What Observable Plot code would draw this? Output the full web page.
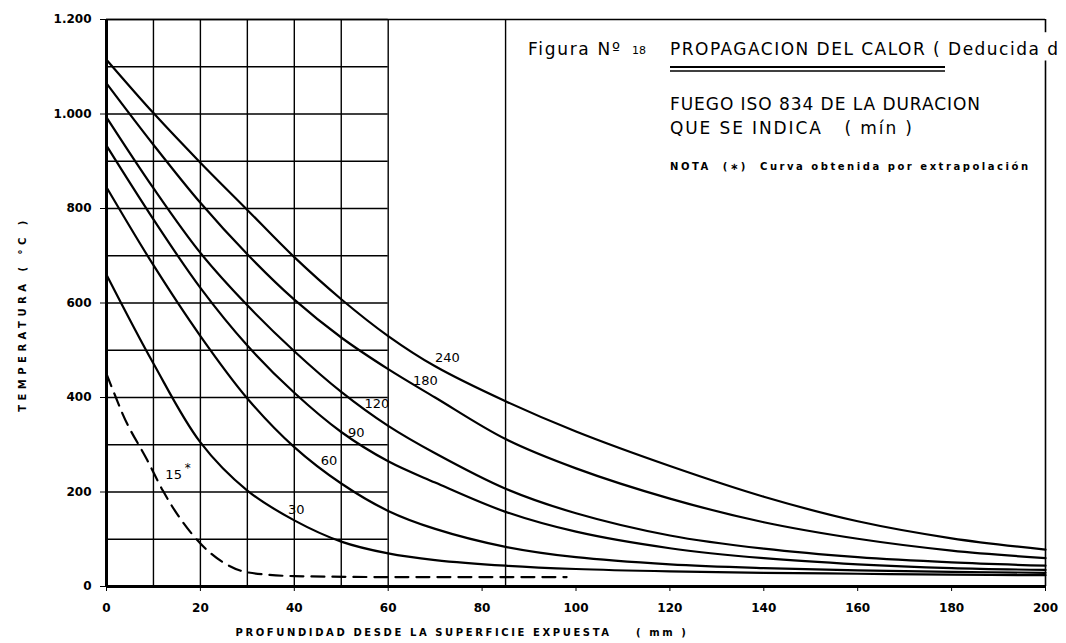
<!DOCTYPE html>
<html><head><meta charset="utf-8">
<script src="https://cdn.jsdelivr.net/npm/d3@7"></script>
<script src="https://cdn.jsdelivr.net/npm/@observablehq/plot@0.6"></script>
<style>
html,body{margin:0;padding:0;background:#fff;overflow:hidden;}
#chart{width:1066px;height:643px;}
</style></head><body><div id="chart"></div>
<script>
// Depth (mm) sample points
const depth = [0, 10, 20, 30, 40, 50, 60, 70, 85, 100, 120, 140, 160, 180, 200];
// Temperatures (°C) for each fire duration (min)
const t240 = [1115, 1002, 897, 797, 697, 608, 530, 466, 392, 328, 255, 190, 138, 102, 78];
const t180 = [1065, 935, 812, 703, 607, 527, 460, 400, 312, 250, 186, 136, 101, 76, 60];
const t120 = [993, 843, 706, 595, 498, 412, 340, 282, 207, 155, 108, 80, 62, 51, 44];
const t90  = [933, 777, 632, 510, 410, 327, 265, 220, 158, 116, 81, 60, 47, 39, 35];
const t60  = [845, 680, 530, 398, 295, 218, 160, 122, 84, 62, 47, 39, 34, 31, 29];
const t30  = [660, 472, 305, 203, 140, 95, 70, 56, 44, 37, 32, 29, 27, 25, 24];
// 15 min curve (extrapolated, dashed)
const depth15 = [0, 2, 3.4, 8.7, 12, 20, 25, 30, 40, 60, 80, 98];
const t15     = [450, 400, 366, 267, 203, 91, 50, 30, 22, 20, 20, 20];

const seriesNames = ["240", "180", "120", "90", "60", "30"];
const seriesTemps = [t240, t180, t120, t90, t60, t30];

// Curve labels (text, depth, temperature)
const labelText = ["240", "180", "120", "90", "60", "30", "15"];
const labelX = [72.6, 67.9, 57.6, 53.2, 47.4, 40.4, 14.3];
const labelY = [484, 436, 386, 326, 267, 162, 237];

// Axis ticks
const xTicks = [0, 20, 40, 60, 80, 100, 120, 140, 160, 180, 200];
const yTicks = [0, 200, 400, 600, 800, 1000, 1200];
const gridX = [0, 10, 20, 30, 40, 50, 60];
const gridY = [0, 100, 200, 300, 400, 500, 600, 700, 800, 900, 1000, 1100, 1200];

const solid = [];
seriesNames.forEach((s, i) => depth.forEach((d, j) => solid.push({series: s, depth: d, temp: seriesTemps[i][j]})));
const dashed = depth15.map((d, j) => ({series: "15", depth: d, temp: t15[j]}));
const labels = labelText.map((t, i) => ({text: t, depth: labelX[i], temp: labelY[i]}));

const fmtY = v => v >= 1000 ? d3.format(",")(v).replace(/,/g, ".") : String(v);
const F = "DejaVu Sans";

const chart = Plot.plot({
  width: 1066, height: 643,
  marginLeft: 106, marginRight: 21, marginTop: 19, marginBottom: 57,
  x: {domain: [0, 200]},
  y: {domain: [0, 1200]},
  style: {fontFamily: F, background: "#fff", color: "#000", overflow: "visible"},
  marks: [
    Plot.ruleX(gridX, {x: d => d, y1: 0, y2: 1200, stroke: "#000", strokeWidth: 1.4}),
    Plot.ruleY(gridY, {y: d => d, x1: 0, x2: 60, stroke: "#000", strokeWidth: 1.4}),
    Plot.ruleX([85], {x: d => d, y1: 0, y2: 1200, stroke: "#000", strokeWidth: 1.4}),
    Plot.ruleX([200], {x: d => d, y1: 0, y2: 1112, stroke: "#000", strokeWidth: 1.6}),
    Plot.ruleX([200], {x: d => d, y1: 1172, y2: 1200, stroke: "#000", strokeWidth: 1.6}),
    Plot.ruleY([1200], {y: d => d, x1: 0, x2: 200, stroke: "#000", strokeWidth: 1.6}),
    Plot.ruleY([0], {y: d => d, x1: 0, x2: 200, stroke: "#000", strokeWidth: 3}),
    Plot.ruleX([0], {x: d => d, y1: 0, y2: 1200, stroke: "#000", strokeWidth: 3}),
    Plot.line(solid, {x: "depth", y: "temp", z: "series", curve: "catmull-rom", stroke: "#000", strokeWidth: 2.2}),
    Plot.line(dashed, {x: "depth", y: "temp", curve: "monotone-x", stroke: "#000", strokeWidth: 2.2, strokeDasharray: "13,8"}),
    Plot.text(labels, {x: "depth", y: "temp", text: "text", fontSize: 13, fill: "#000", textAnchor: "middle"}),
    Plot.text(labels.filter(d => d.text === "15"), {x: "depth", y: "temp", text: () => "*", fontSize: 12, dx: 14, dy: -6, fill: "#000"}),
    Plot.axisX({ticks: xTicks, tickSize: 5, tickPadding: 12, tickFormat: d => String(d), fontSize: 12, fontWeight: "bold", label: null}),
    Plot.axisY({ticks: yTicks, tickSize: 6, tickPadding: 9, tickFormat: fmtY, fontSize: 12, fontWeight: "bold", label: null})
  ]
});
document.getElementById("chart").appendChild(chart);

const svg = d3.select(chart);
const txt = (x, y, s, size, opts = {}) => {
  const t = svg.append("text").attr("x", x).attr("y", y).attr("text-anchor", opts.anchor || "start")
    .attr("font-family", F).attr("font-size", size).attr("fill", "#000").style("white-space", "pre").text(s);
  if (opts.weight) t.attr("font-weight", opts.weight);
  if (opts.ls != null) t.attr("letter-spacing", opts.ls);
  if (opts.len) t.attr("textLength", opts.len).attr("lengthAdjust", "spacing");
  if (opts.transform) t.attr("transform", opts.transform);
  return t;
};
// Axis titles
txt(462, 636, "PROFUNDIDAD DESDE LA SUPERFICIE EXPUESTA    ( mm )", 10, {anchor: "middle", weight: "bold", ls: 2.6});
txt(0, 0, "TEMPERATURA ( °C )", 10, {anchor: "middle", weight: "bold", ls: 4.5, transform: "translate(26,314) rotate(-90)"});
// Title block
txt(528, 55, "Figura Nº", 17, {len: 92});
txt(632, 54, "18", 11);
txt(670, 55, "PROPAGACION DEL CALOR ( Deducida d", 17, {len: 388});
svg.append("line").attr("x1", 670).attr("x2", 945).attr("y1", 67).attr("y2", 67).attr("stroke", "#000").attr("stroke-width", 2.2);
svg.append("line").attr("x1", 670).attr("x2", 945).attr("y1", 71).attr("y2", 71).attr("stroke", "#000").attr("stroke-width", 1.4);
txt(670, 110, "FUEGO ISO 834 DE LA DURACION", 17, {len: 310});
txt(670, 134, "QUE SE INDICA   ( mín )", 17, {len: 242});
txt(670, 170, "NOTA  (∗)  Curva obtenida por extrapolación", 10, {weight: "bold", len: 358});
</script>
</body></html>
